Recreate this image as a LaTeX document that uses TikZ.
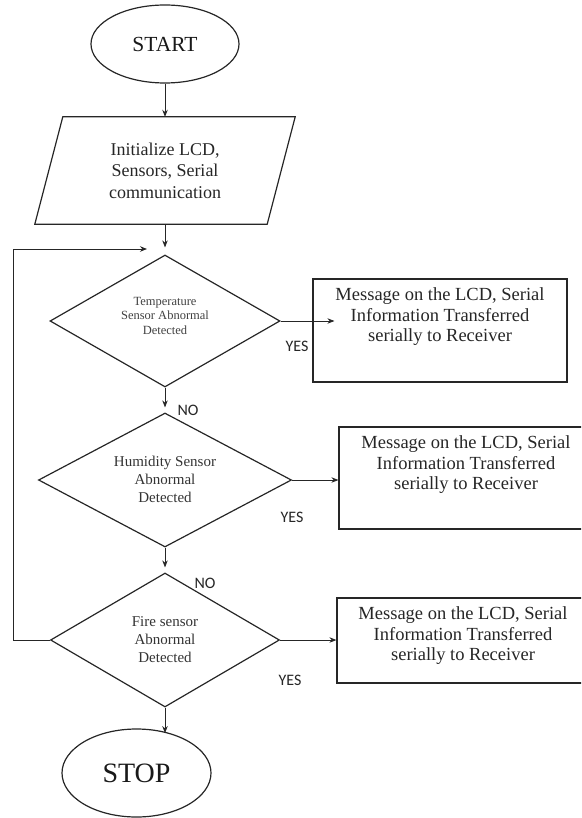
\documentclass[tikz,border=0pt]{standalone}
\usepackage{fontspec}
\setmainfont{Liberation Serif}
\newfontfamily\calib{Carlito}
\usetikzlibrary{shapes.geometric,arrows.meta,calc}
\begin{document}
\begin{tikzpicture}[x=1pt,y=-1pt,
  shapeline/.style={draw=black!85, line width=1.2pt},
  conn/.style={draw=black!85, line width=0.9pt, -{Stealth[length=7pt,width=5.5pt]}},
  term/.style={shapeline, ellipse, inner sep=0pt, text=black!90},
  decision/.style={shapeline, diamond, inner sep=0pt},
  dtexta/.style={align=center, inner sep=0pt, text=black!75, font=\fontsize{12.5}{14.5}\selectfont},
  dtextb/.style={align=center, inner sep=0pt, text=black!80, font=\fontsize{15}{18}\selectfont},
  msgbox/.style={shapeline, rectangle, inner sep=0pt},
  msgtext/.style={align=center, font=\fontsize{18.5}{20.3}\selectfont, text=black!85, inner sep=0pt},
  yn/.style={font=\calib\fontsize{16}{16}\selectfont, text=black!85, inner sep=0pt},
]
\path[use as bounding box] (0,0) rectangle (581,818);
\clip (0,0) rectangle (581,818);

% terminals
\node[term, minimum width=148pt, minimum height=78pt, font=\fontsize{21.5}{24}\selectfont] (start) at (165,44) {START};

% input/output parallelogram
\node[minimum width=260pt, minimum height=107pt, inner sep=0pt, align=center, text=black!85,
      font=\fontsize{18}{21.5}\selectfont] (init) at (165,170.5) {Initialize LCD,\\Sensors, Serial\\communication};
\draw[shapeline] ($(init.north west)+(28pt,0pt)$) -- (init.north east)
  -- ($(init.south east)+(-28pt,0pt)$) -- (init.south west) -- cycle;

% decisions
\node[decision, minimum width=230pt, minimum height=132pt,
      label={[dtexta, anchor=center, yshift=-61.5pt]90:{Temperature\\Sensor Abnormal\\Detected}}] (d1) at (165,321) {};
\node[decision, minimum width=253pt, minimum height=134pt] (d2) at (165,480) {};
\node[dtextb] (d2t) at (165,479) {Humidity Sensor\\Abnormal\\Detected};
\node[decision, minimum width=229pt, minimum height=134pt] (d3) at (165,640) {};
\node[dtextb] (d3t) at (165,640) {Fire sensor\\Abnormal\\Detected};

% message boxes
\node[msgbox, minimum width=254pt, minimum height=103pt,
      label={[msgtext, anchor=north, yshift=-9.5pt]90:{Message on the LCD, Serial\\Information Transferred\\serially to Receiver}}] (b1) at (440,330.5) {};
\node[msgbox, minimum width=254pt, minimum height=102pt,
      label={[msgtext, anchor=north, yshift=-9.5pt]90:{Message on the LCD, Serial\\Information Transferred\\serially to Receiver}}] (b2) at (466,478) {};
\node[msgbox, minimum width=252pt, minimum height=85pt,
      label={[msgtext, anchor=north, yshift=-9.5pt]90:{Message on the LCD, Serial\\Information Transferred\\serially to Receiver}}] (b3) at (463,640.5) {};

\node[term, minimum width=149pt, minimum height=88pt, font=\fontsize{28}{30}\selectfont] (stop) at (136.5,773) {STOP};

% labels
\node[yn] (yes1) at (297,346) {YES};
\node[yn] (yes2) at (292,517) {YES};
\node[yn] (yes3) at (290,680) {YES};
\node[yn] (no1) at (188,410) {NO};
\node[yn] (no2) at (205,583) {NO};

% connectors
\draw[conn] (start.south) -- (init.north);
\draw[conn, shorten >=7pt] (init.south) -- (d1.north);
\draw[conn, shorten >=5pt] (d1.south) -- (d2.north);
\draw[conn, shorten >=5pt] (d2.south) -- (d3.north);
\draw[conn] (d3.south) -- (d3.south |- stop.50);
\draw[conn, shorten >=-22pt] (d1.east) -- (d1.east -| b1.west);
\draw[conn] (d2.east) -- (d2.east -| b2.west);
\draw[conn] (d3.east) -- (d3.east -| b3.west);
\coordinate (lpA) at (13,249);
\coordinate (lpB) at (147,249);
\draw[conn] (d3.west) -| (lpA) -- (lpB);
\end{tikzpicture}
\end{document}
